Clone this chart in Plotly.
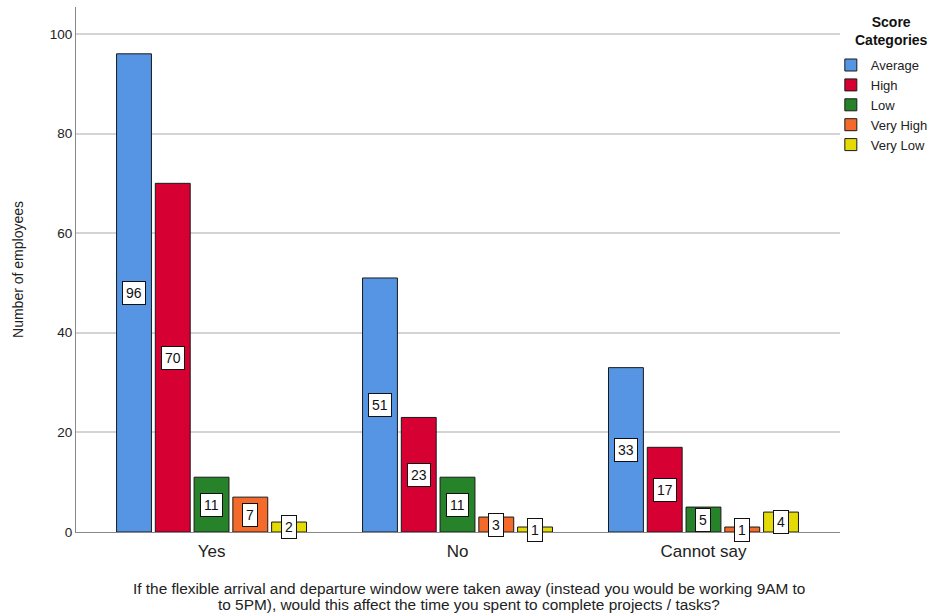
import plotly.graph_objects as go

categories = ["Yes", "No", "Cannot say"]
series_names = ["Average", "High", "Low", "Very High", "Very Low"]
average = [96, 51, 33]
high = [70, 23, 17]
low = [11, 11, 5]
very_high = [7, 3, 1]
very_low = [2, 1, 4]
series_values = [average, high, low, very_high, very_low]
colors = ["#5595E3", "#D60032", "#26832A", "#F46A2A", "#E4DA06"]
y_ticks = [0, 20, 40, 60, 80, 100]
legend_title = "Score<br>Categories"

x_title_lines = [
    "If the flexible arrival and departure window were taken away (instead you would be working 9AM to",
    "to 5PM), would this affect the time you spent to complete projects / tasks?",
]

bargap = 0.212
n = len(series_names)
pitch = (1 - bargap) / n
xs = list(range(len(categories)))

fig = go.Figure()
annotations = []
for i, (name, vals, col) in enumerate(zip(series_names, series_values, colors)):
    fig.add_trace(go.Bar(
        x=xs, y=vals, name=name,
        marker=dict(color=col, line=dict(color="#1a1a1a", width=1)),
        hoverinfo="y+name",
    ))
    off = (i - (n - 1) / 2) * pitch
    for xi, v in zip(xs, vals):
        annotations.append(dict(
            x=xi + off, y=v / 2, xref="x", yref="y", text=str(v), showarrow=False,
            font=dict(family="Liberation Sans, Arial", size=14, color="#111"),
            bgcolor="white", bordercolor="#111", borderwidth=1, borderpad=3,
        ))

for k, line in enumerate(x_title_lines):
    annotations.append(dict(
        x=0.514, y=-0.0876 - k * 0.0305, xref="paper", yref="paper", text=line, showarrow=False,
        xanchor="center", yanchor="top", align="center",
        font=dict(family="Liberation Sans, Arial", size=15.4, color="#222"),
    ))

annotations.append(dict(
    x=1.0668, y=0.99, xref="paper", yref="paper", text="<b>" + legend_title + "</b>",
    showarrow=False, xanchor="center", yanchor="top", align="center",
    font=dict(family="Liberation Sans, Arial", size=14, color="#111"),
))

fig.update_layout(
    width=936, height=616,
    margin=dict(l=76, r=96, t=7, b=84, autoexpand=False),
    paper_bgcolor="white", plot_bgcolor="white",
    barmode="group", bargap=bargap, bargroupgap=0.1,
    font=dict(family="Liberation Sans, Arial", color="#222"),
    annotations=annotations,
    xaxis=dict(
        tickmode="array", tickvals=xs, ticktext=categories,
        range=[-0.551, 2.555], showgrid=False, zeroline=False,
        showline=True, linecolor="#888", linewidth=1,
        tickfont=dict(size=17, color="#222"), ticks="outside", ticklen=4, tickcolor="rgba(0,0,0,0)",
    ),
    yaxis=dict(
        range=[0, 105.4], tickmode="array", tickvals=y_ticks,
        showgrid=True, gridcolor="#d4d4d4", gridwidth=1.5, zeroline=False,
        showline=True, linecolor="#888", linewidth=1,
        tickfont=dict(size=13.5, color="#222"), ticks="",
        title=dict(text="Number of employees", font=dict(size=14, color="#222"), standoff=22),
    ),
    legend=dict(
        x=0.988, y=0.918, xanchor="left", yanchor="top",
        font=dict(size=13, color="#222"),
        itemwidth=30, tracegroupgap=0, bgcolor="rgba(0,0,0,0)",
    ),
    showlegend=True,
)

fig.write_html("out.html")
